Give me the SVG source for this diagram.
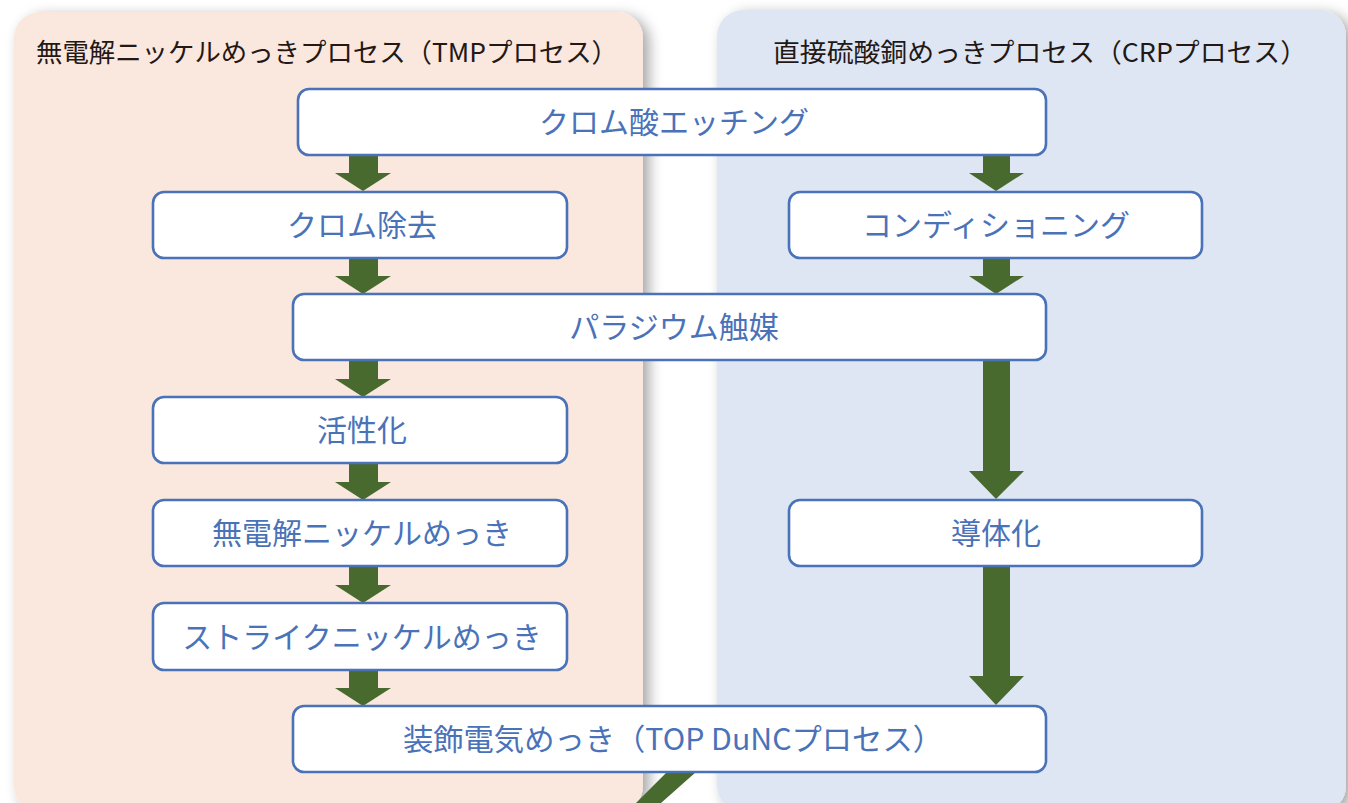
<svg xmlns="http://www.w3.org/2000/svg" width="1348" height="803" viewBox="0 0 1348 803">
<defs>
<filter id="sh" x="-10%" y="-10%" width="125%" height="125%">
<feDropShadow dx="6" dy="4" stdDeviation="7" flood-color="#000" flood-opacity="0.35"/>
</filter>
<style>
.box{fill:#fff;stroke:#4A72B8;stroke-width:2.6}
.lbl{font-family:"Noto Sans CJK JP","Noto Sans CJK SC",sans-serif;font-size:30px;fill:#4A72B8;text-anchor:middle}
.ttl{font-family:"Noto Sans CJK JP","Noto Sans CJK SC",sans-serif;font-size:26px;fill:#231815;text-anchor:middle}
.arr{fill:#496A2F}
</style>
</defs>
<rect width="1348" height="803" fill="#fff"/>
<g id="panel-tmp">
<rect x="14" y="12" width="629" height="800" rx="26" fill="#FAE7DD" filter="url(#sh)"/>
<text class="ttl" x="327" y="62" textLength="582" lengthAdjust="spacingAndGlyphs">無電解ニッケルめっきプロセス（TMPプロセス）</text>
</g>
<g id="panel-crp">
<rect x="717" y="10" width="629" height="802" rx="26" fill="#DFE6F3" filter="url(#sh)"/>
<text class="ttl" x="1040" y="62" textLength="534" lengthAdjust="spacingAndGlyphs">直接硫酸銅めっきプロセス（CRPプロセス）</text>
</g>
<g id="connectors">
<polygon class="arr" points="667,772 696,772 661,803 636,803"/>
<polygon class="arr" points="349,155 378,155 378,173 391,173 363,191 335,173 349,173"/>
<polygon class="arr" points="349,258 378,258 378,276 391,276 363,294 335,276 349,276"/>
<polygon class="arr" points="349,360 378,360 378,379 391,379 363,397 335,379 349,379"/>
<polygon class="arr" points="349,463 378,463 378,482 391,482 363,500 335,482 349,482"/>
<polygon class="arr" points="349,566 378,566 378,585 391,585 363,603 335,585 349,585"/>
<polygon class="arr" points="349,670 378,670 378,688 391,688 363,706 335,688 349,688"/>
<polygon class="arr" points="983,155 1010,155 1010,173 1024,173 996,191 969,173 983,173"/>
<polygon class="arr" points="983,258 1010,258 1010,276 1024,276 996,294 969,276 983,276"/>
<polygon class="arr" points="983,360 1010,360 1010,471 1024,471 996,499 969,471 983,471"/>
<polygon class="arr" points="983,566 1010,566 1010,676 1024,676 996,705 969,676 983,676"/>
</g>
<g id="n1"><rect class="box" x="298" y="89" width="748" height="66" rx="11"/><text class="lbl" x="674" y="133">クロム酸エッチング</text></g>
<g id="n2"><rect class="box" x="153" y="192" width="414" height="66" rx="11"/><text class="lbl" x="362" y="236">クロム除去</text></g>
<g id="n3"><rect class="box" x="789" y="192" width="413" height="66" rx="11"/><text class="lbl" x="996" y="236">コンディショニング</text></g>
<g id="n4"><rect class="box" x="293" y="294" width="753" height="66" rx="11"/><text class="lbl" x="674" y="338">パラジウム触媒</text></g>
<g id="n5"><rect class="box" x="153" y="397" width="414" height="66" rx="11"/><text class="lbl" x="362" y="441">活性化</text></g>
<g id="n6"><rect class="box" x="153" y="500" width="414" height="66" rx="11"/><text class="lbl" x="362" y="544">無電解ニッケルめっき</text></g>
<g id="n7"><rect class="box" x="789" y="500" width="413" height="66" rx="11"/><text class="lbl" x="996" y="544">導体化</text></g>
<g id="n8"><rect class="box" x="153" y="603" width="414" height="67" rx="11"/><text class="lbl" x="362" y="648">ストライクニッケルめっき</text></g>
<g id="n9"><rect class="box" x="293" y="706" width="753" height="66" rx="11"/><text class="lbl" x="673" y="750" textLength="540" lengthAdjust="spacingAndGlyphs">装飾電気めっき（TOP DuNCプロセス）</text></g>
</svg>
